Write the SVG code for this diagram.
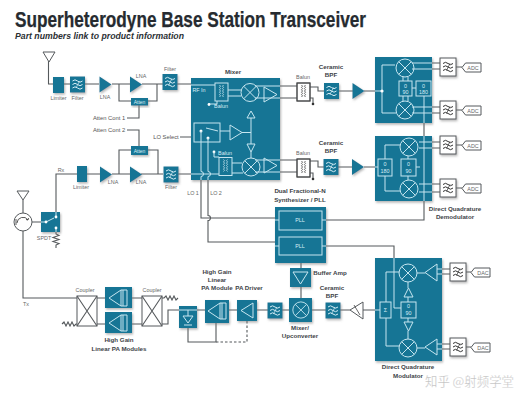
<svg xmlns="http://www.w3.org/2000/svg" xmlns:xlink="http://www.w3.org/1999/xlink" width="528" height="400" viewBox="0 0 528 400">
<style>
text{font-family:"Liberation Sans",Arial,sans-serif}
.t{font-size:21.500px;font-weight:700;fill:#262b30;stroke:#262b30;stroke-width:.25}
.s{font-size:8.5px;font-weight:700;font-style:italic;fill:#2b3034}
.l{font-size:5.800px;fill:#555;text-anchor:middle}
.b{font-size:6.200px;font-weight:700;fill:#3d4347;text-anchor:middle}
.w{font-size:5.4px;fill:#d8eef5;text-anchor:middle}
.k{font-size:5.4px;fill:#666;text-anchor:middle}
.c{fill:none;stroke:#55595c;stroke-width:1.1}
.d{stroke-dasharray:2.5 2}
.i{fill:none;stroke:#c6e6f0;stroke-width:1}
.box{fill:#197495;filter:url(#sh)}
.tri{fill:#197495;filter:url(#sh)}
.wh{fill:#fff;stroke:#55595c;stroke-width:1}
.wm{font-family:"Noto Sans CJK SC","Liberation Sans",sans-serif;font-size:13px;fill:#9a9a9a;fill-opacity:.75;stroke:#fff;stroke-width:.5;stroke-opacity:.7}
</style>
<defs>
<filter id="sh" x="-20%" y="-20%" width="150%" height="150%"><feDropShadow dx="1" dy="1.6" stdDeviation="1.1" flood-color="#777" flood-opacity=".55"/></filter>
<g id="wv"><path d="M-5-3.5q2.5-2.4 5 0t5 0M-5 0q2.5-2.4 5 0t5 0M-5 3.5q2.5-2.4 5 0t5 0" fill="none" stroke-width="1"/><path d="M-1.5 3.5L2-3.5" fill="none" stroke-width=".7"/></g>
<g id="flt"><rect class="box" x="-7.5" y="-8" width="15" height="16"/><use xlink:href="#wv" stroke="#d4edf5"/></g>
<g id="wflt"><rect class="wh" x="-8" y="-9" width="16" height="18" style="filter:url(#sh)"/><use xlink:href="#wv" stroke="#333"/></g>
<g id="mx"><circle r="9" class="i" stroke-width="1.2"/><path d="M-6.4-6.4L6.4 6.4M-6.4 6.4L6.4-6.4" class="i"/></g>
<g id="bal"><rect x="-6.5" y="-9" width="13" height="18" fill="none" stroke-width="1"/><path d="M-2-7q2 1.2 0 2.4q2 1.2 0 2.4q2 1.2 0 2.4q2 1.2 0 2.4q2 1.2 0 2.4M2-7q-2 1.2 0 2.4q-2 1.2 0 2.4q-2 1.2 0 2.4q-2 1.2 0 2.4q-2 1.2 0 2.4" fill="none" stroke-width=".8"/></g>
<path id="ztri" d="M-6-8L6 0L-6 8z"/>
<g id="adc"><path class="wh" d="M0 4.5L3.5 0H19V9H3.5z"/></g>
<g id="cpl"><rect x="-10" y="-15" width="20" height="30" class="wh"/><path d="M-10-15L10 15M-10 15L10-15" class="c"/></g>
<g id="pa"><path d="M-9 0L3-8V8zM3-8L9-8V8H3M5-8V8" class="i" stroke-width="1.1"/></g>
</defs>
<rect width="528" height="400" fill="#fff"/>
<text class="t" x="15" y="27" textLength="351" lengthAdjust="spacingAndGlyphs">Superheterodyne Base Station Transceiver</text>
<text class="s" x="15" y="39" textLength="169" lengthAdjust="spacingAndGlyphs">Part numbers link to product information</text>

<g id="connectors" class="c">
<path d="M48.5 61V84H53M64 84H70M85 84H99M112 84H130M142 84H163M177 84H191M119 84V101H131M148 101H157V84"/>
<path d="M127 118H139V105M127 130H139V146M180 137H191"/>
<path d="M56 212V174H77M87 174H100M112 174H130M141 174H163M178 174H191M119 174V150H131M148 150H158V174"/>
<path d="M23 200V213M23 231V298H77M32 222H41M56 232v2l3 1.500-6 2 6 2-6 2 6 2-3 1.500V248"/>
<path d="M62 324l2-2 2 4 2-4 2 4 2-4 2 4 2-2h3M97 298H105M132 298H142M97 324H105M132 324H142M162 298h2l2-2 2 4 2-4 2 4 2-4 2 4 2-2"/>
<path d="M162 324H168V310H179M197 310H205M229 310H237M257 310H268M282 310H289M312 310H326M340 310H350M363 310H375"/>
<path d="M188 328V342H216V323"/>
<path class="d" d="M216 342H247V321"/>
<path d="M201 180V218H275M208 180V215.500a2.500 2.500 0 0 1 0 5V242H275"/>
<path d="M326 220H424V192M424 123V136M326 246H394V258M301 263V268M301 287V298"/>
<path d="M280 86H297M280 98H297M310 87H318V91H324M310 98H313V103M339 91H353M364 91H375"/>
<path d="M280 160H297M280 172H297M310 161H318V167H324M310 173H313V178M338 167H352M364 167H375"/>
<path d="M432 63H440M432 69H440M432 107H440M432 113H440M456 67H462M456 110H462"/>
<path d="M432 142H440M432 148H440M432 184H440M432 192H440M456 145H462M456 188H462"/>
<path d="M442 269H450M442 274H450M442 344H450M442 349H450M466 272H471M466 347H471"/>
</g>

<g id="antenna-tx"><path class="wh" d="M43 52H55L49 62z"/></g>
<g id="limiter-1"><rect class="box" x="53" y="77" width="11" height="16"/><text class="k" x="58.500" y="100">Limiter</text></g>
<g id="filter-1"><use xlink:href="#flt" x="77.500" y="84.500"/><text class="k" x="77.500" y="100">Filter</text></g>
<g id="lna-1"><use xlink:href="#ztri" class="tri" x="105.500" y="84.500"/><text class="k" x="105" y="99">LNA</text></g>
<g id="lna-2"><use xlink:href="#ztri" class="tri" x="136" y="84.500"/><text class="k" x="141" y="78">LNA</text></g>
<g id="atten-1"><rect class="box" x="131" y="98" width="17" height="7.500"/><text class="w" x="139.500" y="103.800" style="font-size:5px">Atten</text></g>
<g id="filter-2"><use xlink:href="#flt" x="170" y="82"/><text class="k" x="170" y="71">Filter</text></g>
<text class="l" x="109" y="120">Atten Cont 1</text>
<text class="l" x="109" y="132">Atten Cont 2</text>
<text class="l" x="166" y="139">LO Select</text>

<g id="mixer">
<text class="b" x="233" y="74">Mixer</text>
<rect class="box" x="191" y="78" width="89" height="102"/>
<text class="w" x="199" y="92">RF In</text>
<path class="i" d="M191 85H215M228 90H241M228 96H241M255 86H280M255 98H280M264 87L277 94.500L264 102zM264 158L277 165.500L264 173zM255 160H280M255 172H280"/>
<use xlink:href="#bal" x="221.500" y="92" stroke="#c6e6f0"/>
<use xlink:href="#mx" x="250" y="92.500"/>
<path class="i" d="M217 101V104H209"/><circle cx="209" cy="104.500" r="1.400" fill="#fff"/>
<text class="w" x="221" y="108">Balun</text>
<path class="i" d="M247 118L251 111L255 118zM251 118V144M247 144H255L251 152zM251 152V158M230 125L242 132.500L230 140zM242 132.500H251M220 131H230"/>
<rect x="194" y="123" width="26" height="19" class="i"/>
<circle cx="201" cy="131" r="1.500" fill="#fff"/><circle cx="208" cy="138" r="1.500" fill="#fff"/>
<path class="i" d="M206 128L218 131M201 131V171.500a2.500 2.500 0 0 1 0 5V180M208 138V171.500a2.500 2.500 0 0 1 0 5V180"/>
<circle cx="214" cy="152" r="1.400" fill="#fff"/><path class="i" d="M214 152V157H219"/>
<text class="w" x="225" y="155">Balun</text>
<path class="i" d="M191 174H219M232 163H242M232 173H243"/>
<use xlink:href="#bal" x="225.500" y="166.500" stroke="#c6e6f0"/>
<use xlink:href="#mx" x="251" y="167"/>
</g>
<text class="k" x="193" y="195">LO 1</text><text class="k" x="216" y="195">LO 2</text>

<g id="balun-1"><rect class="wh" x="297" y="83" width="13" height="18"/><use xlink:href="#bal" x="303.500" y="92" stroke="#444"/><circle cx="313" cy="104" r="1.300" fill="#333"/><text class="k" x="303" y="79">Balun</text></g>
<g id="bpf-1"><text class="b" x="331" y="69">Ceramic</text><text class="b" x="331" y="77">BPF</text><use xlink:href="#flt" x="331.500" y="91"/></g>
<g id="amp-1"><use xlink:href="#ztri" class="tri" x="358.500" y="91"/></g>
<g id="balun-2"><rect class="wh" x="297" y="159" width="13" height="18"/><use xlink:href="#bal" x="303.500" y="168" stroke="#444"/><circle cx="313" cy="179" r="1.300" fill="#333"/><text class="k" x="303" y="155">Balun</text></g>
<g id="bpf-2"><text class="b" x="331" y="145">Ceramic</text><text class="b" x="331" y="153">BPF</text><use xlink:href="#flt" x="331" y="167"/></g>
<g id="amp-2"><use xlink:href="#ztri" class="tri" x="358" y="167"/></g>

<g id="demod-1">
<rect class="box" x="375" y="57" width="57" height="66"/>
<path class="i" d="M375 91H382M395 65H382V113H396M412 63H432M412 69H432M412 107H432M412 113H432M403 77V81M408 77V81M403 96V101M408 96V101M412 88H416M424 96V123"/>
<circle cx="382" cy="91" r="1.600" fill="#fff"/>
<use xlink:href="#mx" x="405" y="68"/><use xlink:href="#mx" x="405" y="110"/>
<rect class="i" x="399" y="81" width="13" height="15"/><rect class="i" x="416" y="81" width="15" height="15"/>
<text class="w" x="405.500" y="88">0</text><text class="w" x="405.500" y="94">90</text>
<text class="w" x="423.500" y="88">0</text><text class="w" x="423.500" y="94">180</text>
</g>
<g id="demod-2">
<rect class="box" x="375" y="136" width="57" height="65"/>
<path class="i" d="M375 167H378M400 145H385V159M400 191H385V176M408 156V159M408 176V180M416 167H420M419 142H432M419 148H432M419 184H432M419 192H432M424 136V201"/>
<use xlink:href="#mx" x="409" y="147"/><use xlink:href="#mx" x="409" y="189"/>
<rect class="i" x="378" y="159" width="14" height="17"/><rect class="i" x="401" y="159" width="15" height="17"/>
<text class="w" x="385" y="166">0</text><text class="w" x="385" y="173">180</text>
<text class="w" x="408.500" y="166">0</text><text class="w" x="408.500" y="173">90</text>
</g>
<text class="b" x="455" y="211">Direct Quadrature</text><text class="b" x="455" y="219">Demodulator</text>

<g id="filter-a1"><use xlink:href="#wflt" x="448" y="67"/></g>
<g id="adc-1"><use xlink:href="#adc" x="462" y="63"/><text class="k" x="473" y="70">ADC</text></g>
<g id="filter-a2"><use xlink:href="#wflt" x="448" y="110"/></g>
<g id="adc-2"><use xlink:href="#adc" x="462" y="106"/><text class="k" x="473" y="113">ADC</text></g>
<g id="filter-a3"><use xlink:href="#wflt" x="448" y="145"/></g>
<g id="adc-3"><use xlink:href="#adc" x="462" y="141"/><text class="k" x="473" y="148">ADC</text></g>
<g id="filter-a4"><use xlink:href="#wflt" x="448" y="188"/></g>
<g id="adc-4"><use xlink:href="#adc" x="462" y="184"/><text class="k" x="473" y="191">ADC</text></g>

<g id="antenna-rx"><path class="wh" d="M17 191H29L23 200z"/></g>
<g id="circulator"><circle class="wh" cx="23" cy="222" r="9" stroke-width="1.300"/><path d="M17 223a6 6 0 0 1 11-3M28 220l-2-.5M28 220l.5-2M16 219v6" fill="none" stroke="#444" stroke-width=".9"/></g>
<g id="spdt"><rect class="box" x="41" y="212" width="19" height="20"/><path class="i" d="M41 222H46L54 218M56 212V216M56 228V232"/><circle cx="46" cy="222" r="1.400" fill="#fff"/><circle cx="56" cy="217" r="1.400" fill="#fff"/><circle cx="56" cy="228" r="1.400" fill="#fff"/><text class="k" x="44" y="240">SPDT</text></g>
<text class="k" x="61" y="172">Rx</text>
<text class="k" x="26" y="306">Tx</text>
<g id="limiter-2"><rect class="box" x="77" y="166" width="10" height="16"/><text class="k" x="81" y="189">Limiter</text></g>
<g id="lna-3"><use xlink:href="#ztri" class="tri" x="106" y="174.500"/><text class="k" x="113" y="184">LNA</text></g>
<g id="lna-4"><use xlink:href="#ztri" class="tri" x="136" y="174.500"/><text class="k" x="141" y="184">LNA</text></g>
<g id="atten-2"><rect class="box" x="131" y="146" width="17" height="9"/><text class="w" x="139.500" y="152.500" style="font-size:5px">Atten</text></g>
<g id="filter-3"><use xlink:href="#flt" x="171" y="174.500"/><text class="k" x="171" y="189">Filter</text></g>

<g id="pll">
<text class="b" x="300" y="193">Dual Fractional-N</text><text class="b" x="300" y="202">Synthesizer / PLL</text>
<rect class="box" x="275" y="207" width="51" height="56"/>
<path class="i" d="M275 220H279M322 220H326M275 246H279M322 246H326"/>
<rect class="i" x="279" y="211" width="43" height="19"/><rect class="i" x="279" y="237" width="43" height="18"/>
<text class="w" x="300" y="222">PLL</text><text class="w" x="300" y="248">PLL</text>
</g>
<g id="buffer"><rect class="box" x="290" y="268" width="21" height="19"/><path class="i" d="M293 272H308L300.500 284z"/><text class="b" x="330" y="275">Buffer Amp</text></g>
<g id="upconverter"><rect class="box" x="289" y="298" width="23" height="24"/><use xlink:href="#mx" x="301" y="310" transform="translate(30 31) scale(.9)"/><text class="b" x="300" y="330">Mixer/</text><text class="b" x="300" y="338">Upconverter</text></g>
<g id="filter-4"><use xlink:href="#flt" x="275" y="310.500"/></g>
<g id="bpf-3"><text class="b" x="332" y="290">Ceramic</text><text class="b" x="332" y="298">BPF</text><use xlink:href="#flt" x="333" y="310.500"/></g>
<g id="attenuator"><path class="wh" d="M350 310L363 302V319z"/><path d="M354 305L360 315" fill="none" stroke="#444" stroke-width=".8"/></g>

<g id="modulator">
<rect class="box" x="375" y="258" width="67" height="103"/>
<path class="i" d="M375 310H380M386 302V272H399M386 318V346H399M394 258V308H401M408 282V288M408 297V302M408 318V322M408 331V339M417 273H425M417 348H425M437 269H442M437 274H442M437 344H442M437 349H442"/>
<path class="i" d="M404 297L408.500 288L413 297zM404 322H413L408.500 331zM425 272.500L437 264V281zM425 347L437 339V355z"/>
<use xlink:href="#mx" x="408" y="273"/><use xlink:href="#mx" x="408" y="348"/>
<rect class="i" x="380" y="302" width="11" height="16"/><rect class="i" x="401" y="302" width="15" height="16"/>
<text class="w" x="385.500" y="312">Σ</text><text class="w" x="408.500" y="308">0</text><text class="w" x="408.500" y="315">90</text>
</g>
<g id="filter-d1"><use xlink:href="#wflt" x="458" y="272"/></g>
<g id="dac-1"><use xlink:href="#adc" x="471" y="268"/><text class="k" x="483" y="275">DAC</text></g>
<g id="filter-d2"><use xlink:href="#wflt" x="458" y="347"/></g>
<g id="dac-2"><use xlink:href="#adc" x="471" y="343"/><text class="k" x="483" y="350">DAC</text></g>
<text class="b" x="408" y="369">Direct Quadrature</text><text class="b" x="408" y="378">Modulator</text>

<g id="coupler-1"><use xlink:href="#cpl" x="87" y="311"/><text class="k" x="85" y="292">Coupler</text></g>
<g id="pa-module-1"><rect class="box" x="105" y="287" width="27" height="21"/><use xlink:href="#pa" x="118" y="298"/></g>
<g id="pa-module-2"><rect class="box" x="105" y="312" width="27" height="21"/><use xlink:href="#pa" x="118" y="323"/></g>
<text class="b" x="119" y="342">High Gain</text><text class="b" x="119" y="351">Linear PA Modules</text>
<g id="coupler-2"><use xlink:href="#cpl" x="152" y="311"/><text class="k" x="152" y="292">Coupler</text></g>
<g id="detector"><rect class="box" x="179" y="306" width="18" height="22"/><path class="i" d="M179 310H197M183 316H193L188 323zM184 325H192M188 310V316"/></g>
<g id="pa-module-3"><rect class="box" x="205" y="300" width="24" height="23"/><use xlink:href="#pa" x="217" y="311"/><text class="b" x="217" y="274">High Gain</text><text class="b" x="217" y="282">Linear</text><text class="b" x="217" y="290">PA Module</text></g>
<g id="pa-driver"><rect class="box" x="237" y="300" width="20" height="21"/><path class="i" d="M241 310.500L253 303V318z"/><text class="b" x="249" y="290">PA Driver</text></g>
<text class="wm" x="425" y="386" textLength="89" lengthAdjust="spacingAndGlyphs">知乎 @射频学堂</text>
</svg>
